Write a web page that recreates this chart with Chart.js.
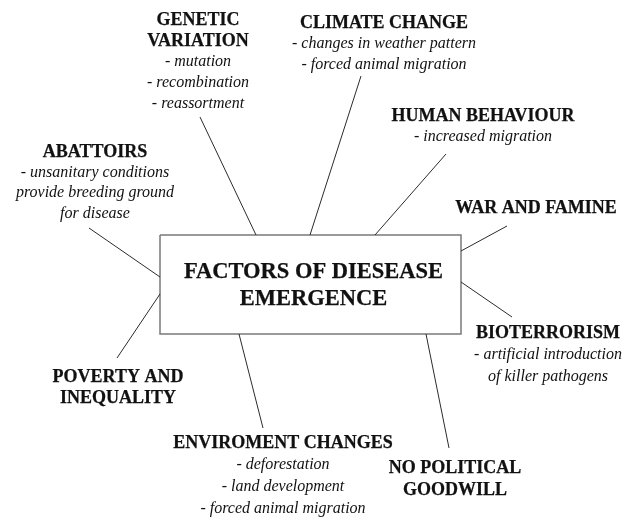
<!DOCTYPE html>
<html>
<head>
<meta charset="utf-8">
<script src="https://cdn.jsdelivr.net/npm/chart.js@4"></script>
<style>
  html, body { margin: 0; padding: 0; background: #fff; }
  #wrap { width: 624px; height: 517px; }
</style>
</head>
<body>
<div id="wrap"><canvas id="mindmap" width="624" height="517"></canvas></div>
<script>
// centre node
const centreTitle = ['FACTORS OF DIESEASE', 'EMERGENCE'];
const centreBoxX = [160, 461];
const centreBoxY = [235, 334];

// factors round the centre
const factorTitles = [
    ['GENETIC', 'VARIATION'],
    ['CLIMATE CHANGE'],
    ['HUMAN BEHAVIOUR'],
    ['WAR AND FAMINE'],
    ['BIOTERRORISM'],
    ['NO POLITICAL', 'GOODWILL'],
    ['ENVIROMENT CHANGES'],
    ['POVERTY AND', 'INEQUALITY'],
    ['ABATTOIRS']
];
const factorNotes = [
    ['- mutation', '- recombination', '- reassortment'],
    ['- changes in weather pattern', '- forced animal migration'],
    ['- increased migration'],
    [],
    ['- artificial introduction', 'of killer pathogens'],
    [],
    ['- deforestation', '- land development', '- forced animal migration'],
    [],
    ['- unsanitary conditions', 'provide breeding ground', 'for disease']
];
const labelX = [198, 384, 483, 536, 548, 455, 283, 118, 95];
const labelY = [20, 23, 116, 208, 333, 468, 443, 377, 152];
const lineGap = [21, 21, 21, 21, 22, 22, 22, 21, 20.5];

// connectors: box edge -> label
const linkFromX = [256, 310, 375, 461, 461, 426, 239, 160, 160];
const linkFromY = [235, 235, 235, 251, 282, 334, 334, 294, 277];
const linkToX = [200, 361, 446, 507, 512, 449, 263, 117, 89];
const linkToY = [117, 76, 154, 226, 317, 448, 428, 358, 228];

const datasets = linkFromX.map((x, i) => ({
    data: [{ x, y: linkFromY[i] }, { x: linkToX[i], y: linkToY[i] }],
    showLine: true,
    borderColor: '#2b2b2b',
    borderWidth: 1,
    pointRadius: 0
}));
datasets.push({
    data: [
        { x: centreBoxX[0], y: centreBoxY[0] }, { x: centreBoxX[1], y: centreBoxY[0] },
        { x: centreBoxX[1], y: centreBoxY[1] }, { x: centreBoxX[0], y: centreBoxY[1] },
        { x: centreBoxX[0], y: centreBoxY[0] }
    ],
    showLine: true,
    borderColor: '#7a7a7a',
    borderWidth: 1.5,
    pointRadius: 0
});

// bold text gets a hairline stroke so it reads a bit heavier
const boldText = (ctx, t, px, py) => { ctx.fillText(t, px, py); ctx.strokeText(t, px, py); };

const labelPlugin = {
    id: 'labels',
    afterDatasetsDraw(chart) {
        const { ctx, scales: { x, y } } = chart;
        ctx.save();
        ctx.fillStyle = '#111';
        ctx.strokeStyle = '#111';
        ctx.lineWidth = 0.25;
        ctx.textAlign = 'center';
        ctx.textBaseline = 'middle';
        const cx = x.getPixelForValue((centreBoxX[0] + centreBoxX[1]) / 2 + 3);
        ctx.font = 'bold 22.5px "Liberation Serif", serif';
        centreTitle.forEach((t, k) => boldText(ctx, t, cx, y.getPixelForValue(272 + k * 27)));
        factorTitles.forEach((titles, i) => {
            let row = 0;
            const px = x.getPixelForValue(labelX[i]);
            ctx.font = 'bold 18px "Liberation Serif", serif';
            titles.forEach(t => { boldText(ctx, t, px, y.getPixelForValue(labelY[i] + row * lineGap[i])); row++; });
            ctx.font = 'italic 16px "Liberation Serif", serif';
            factorNotes[i].forEach(t => { ctx.fillText(t, px, y.getPixelForValue(labelY[i] + row * lineGap[i])); row++; });
        });
        ctx.restore();
    }
};

new Chart(document.getElementById('mindmap'), {
    type: 'scatter',
    data: { datasets },
    options: {
        responsive: false,
        animation: false,
        layout: { padding: 0 },
        plugins: { legend: { display: false }, tooltip: { enabled: false } },
        scales: {
            x: { type: 'linear', min: 0, max: 624, display: false },
            y: { type: 'linear', min: 0, max: 517, reverse: true, display: false }
        }
    },
    plugins: [labelPlugin]
});
</script>
</body>
</html>
